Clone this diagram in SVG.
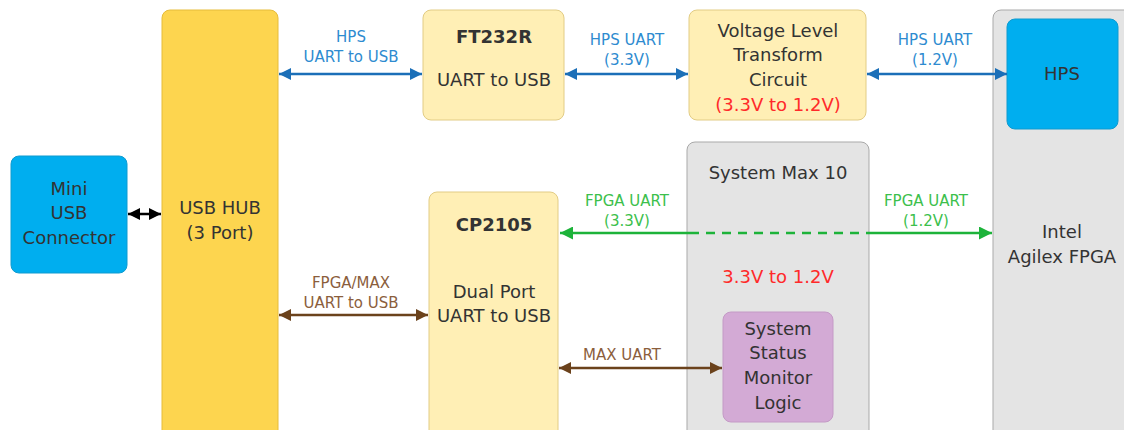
<svg xmlns="http://www.w3.org/2000/svg" width="1124" height="430" viewBox="0 0 1124 430">
<defs>
<style>
text{font-family:"DejaVu Sans","Liberation Sans",Arial,sans-serif;text-anchor:middle}
.t{font-size:18px;fill:#333}
.b{font-weight:bold}
.red{fill:#FF2A2A}
.lb{font-size:15px;fill:#2E8BD0}
.lg{font-size:15px;fill:#3CC04C}
.lbr{font-size:15px;fill:#8B5E3C}
.yel{fill:#FDD54F;stroke:#E6BC3A;stroke-width:1}
.ly{fill:#FFEFB5;stroke:#E2CC85;stroke-width:1}
.gr{fill:#E4E4E4;stroke:#A9A9A9;stroke-width:1}
.bl{fill:#00AEEF;stroke:#0E9BD0;stroke-width:1}
.pu{fill:#D3AAD5;stroke:#C49AC6;stroke-width:1}
</style>
<marker id="ab" viewBox="0 0 12 12" refX="12" refY="6" markerWidth="12" markerHeight="12" markerUnits="userSpaceOnUse" orient="auto-start-reverse"><path d="M0,0 L12,6 L0,12 z" fill="#1B6FB8"/></marker>
<marker id="ag" viewBox="0 0 12 12" refX="12" refY="6" markerWidth="13" markerHeight="13" markerUnits="userSpaceOnUse" orient="auto-start-reverse"><path d="M0,0 L12,6 L0,12 z" fill="#1DB33A"/></marker>
<marker id="an" viewBox="0 0 12 12" refX="12" refY="6" markerWidth="12" markerHeight="12" markerUnits="userSpaceOnUse" orient="auto-start-reverse"><path d="M0,0 L12,6 L0,12 z" fill="#6B421C"/></marker>
<marker id="ak" viewBox="0 0 12 12" refX="12" refY="6" markerWidth="12" markerHeight="12" markerUnits="userSpaceOnUse" orient="auto-start-reverse"><path d="M0,0 L12,6 L0,12 z" fill="#000"/></marker>
</defs>
<rect width="1124" height="430" fill="#fff"/>

<g id="agilex">
<rect class="gr" x="993" y="10" width="150" height="440" rx="8"/>
<text class="t" x="1062" y="238">Intel</text>
<text class="t" x="1062" y="263">Agilex FPGA</text>
</g>
<g id="hps">
<rect class="bl" x="1007" y="19" width="111" height="110" rx="8"/>
<text class="t" x="1062" y="80">HPS</text>
</g>
<g id="max10">
<rect class="gr" x="687" y="142" width="182" height="310" rx="8"/>
<text class="t" x="778" y="179">System Max 10</text>
<text class="t red" x="778" y="283">3.3V to 1.2V</text>
</g>
<g id="ssm">
<rect class="pu" x="723" y="312" width="110" height="110" rx="8"/>
<text class="t" x="778" y="335">System</text>
<text class="t" x="778" y="359">Status</text>
<text class="t" x="778" y="384">Monitor</text>
<text class="t" x="778" y="409">Logic</text>
</g>
<g id="mini-usb">
<rect class="bl" x="11" y="156" width="116" height="117" rx="8"/>
<text class="t" x="69" y="195">Mini</text>
<text class="t" x="69" y="219">USB</text>
<text class="t" x="69" y="244">Connector</text>
</g>
<g id="usb-hub">
<rect class="yel" x="162" y="10" width="116" height="440" rx="8"/>
<text class="t" x="220" y="214">USB HUB</text>
<text class="t" x="220" y="239">(3 Port)</text>
</g>
<g id="ft232r">
<rect class="ly" x="423" y="10" width="141" height="110" rx="8"/>
<text class="t b" x="494" y="43">FT232R</text>
<text class="t" x="494" y="86">UART to USB</text>
</g>
<g id="vlt">
<rect class="ly" x="689" y="10" width="177" height="110" rx="8"/>
<text class="t" x="778" y="37">Voltage Level</text>
<text class="t" x="778" y="61">Transform</text>
<text class="t" x="778" y="86">Circuit</text>
<text class="t red" x="778" y="111">(3.3V to 1.2V)</text>
</g>
<g id="cp2105">
<rect class="ly" x="429" y="192" width="129" height="260" rx="8"/>
<text class="t b" x="494" y="231">CP2105</text>
<text class="t" x="494" y="298">Dual Port</text>
<text class="t" x="494" y="322">UART to USB</text>
</g>

<g id="connectors" fill="none" stroke-width="2.5">
<line x1="128" y1="214" x2="161" y2="214" stroke="#000" marker-start="url(#ak)" marker-end="url(#ak)"/>
<line x1="279" y1="74" x2="422" y2="74" stroke="#1B6FB8" marker-start="url(#ab)" marker-end="url(#ab)"/>
<line x1="565" y1="74" x2="688" y2="74" stroke="#1B6FB8" marker-start="url(#ab)" marker-end="url(#ab)"/>
<line x1="867" y1="74" x2="1007" y2="74" stroke="#1B6FB8" marker-start="url(#ab)" marker-end="url(#ab)"/>
<line x1="560" y1="233" x2="690" y2="233" stroke="#1DB33A" marker-start="url(#ag)"/>
<line x1="690" y1="233" x2="866" y2="233" stroke="#1DB33A" stroke-dasharray="9,7"/>
<line x1="866" y1="233" x2="992" y2="233" stroke="#1DB33A" marker-end="url(#ag)"/>
<line x1="279" y1="315" x2="428" y2="315" stroke="#6B421C" marker-start="url(#an)" marker-end="url(#an)"/>
<line x1="559" y1="368" x2="722" y2="368" stroke="#6B421C" marker-start="url(#an)" marker-end="url(#an)"/>
</g>
<g id="labels">
<text class="lb" x="351" y="42">HPS</text>
<text class="lb" x="351" y="62">UART to USB</text>
<text class="lb" x="627" y="45">HPS UART</text>
<text class="lb" x="627" y="65">(3.3V)</text>
<text class="lb" x="935" y="45">HPS UART</text>
<text class="lb" x="935" y="65">(1.2V)</text>
<text class="lg" x="627" y="206">FPGA UART</text>
<text class="lg" x="627" y="226">(3.3V)</text>
<text class="lg" x="926" y="206">FPGA UART</text>
<text class="lg" x="926" y="226">(1.2V)</text>
<text class="lbr" x="351" y="288">FPGA/MAX</text>
<text class="lbr" x="351" y="308">UART to USB</text>
<text class="lbr" x="622" y="360">MAX UART</text>
</g>
</svg>
